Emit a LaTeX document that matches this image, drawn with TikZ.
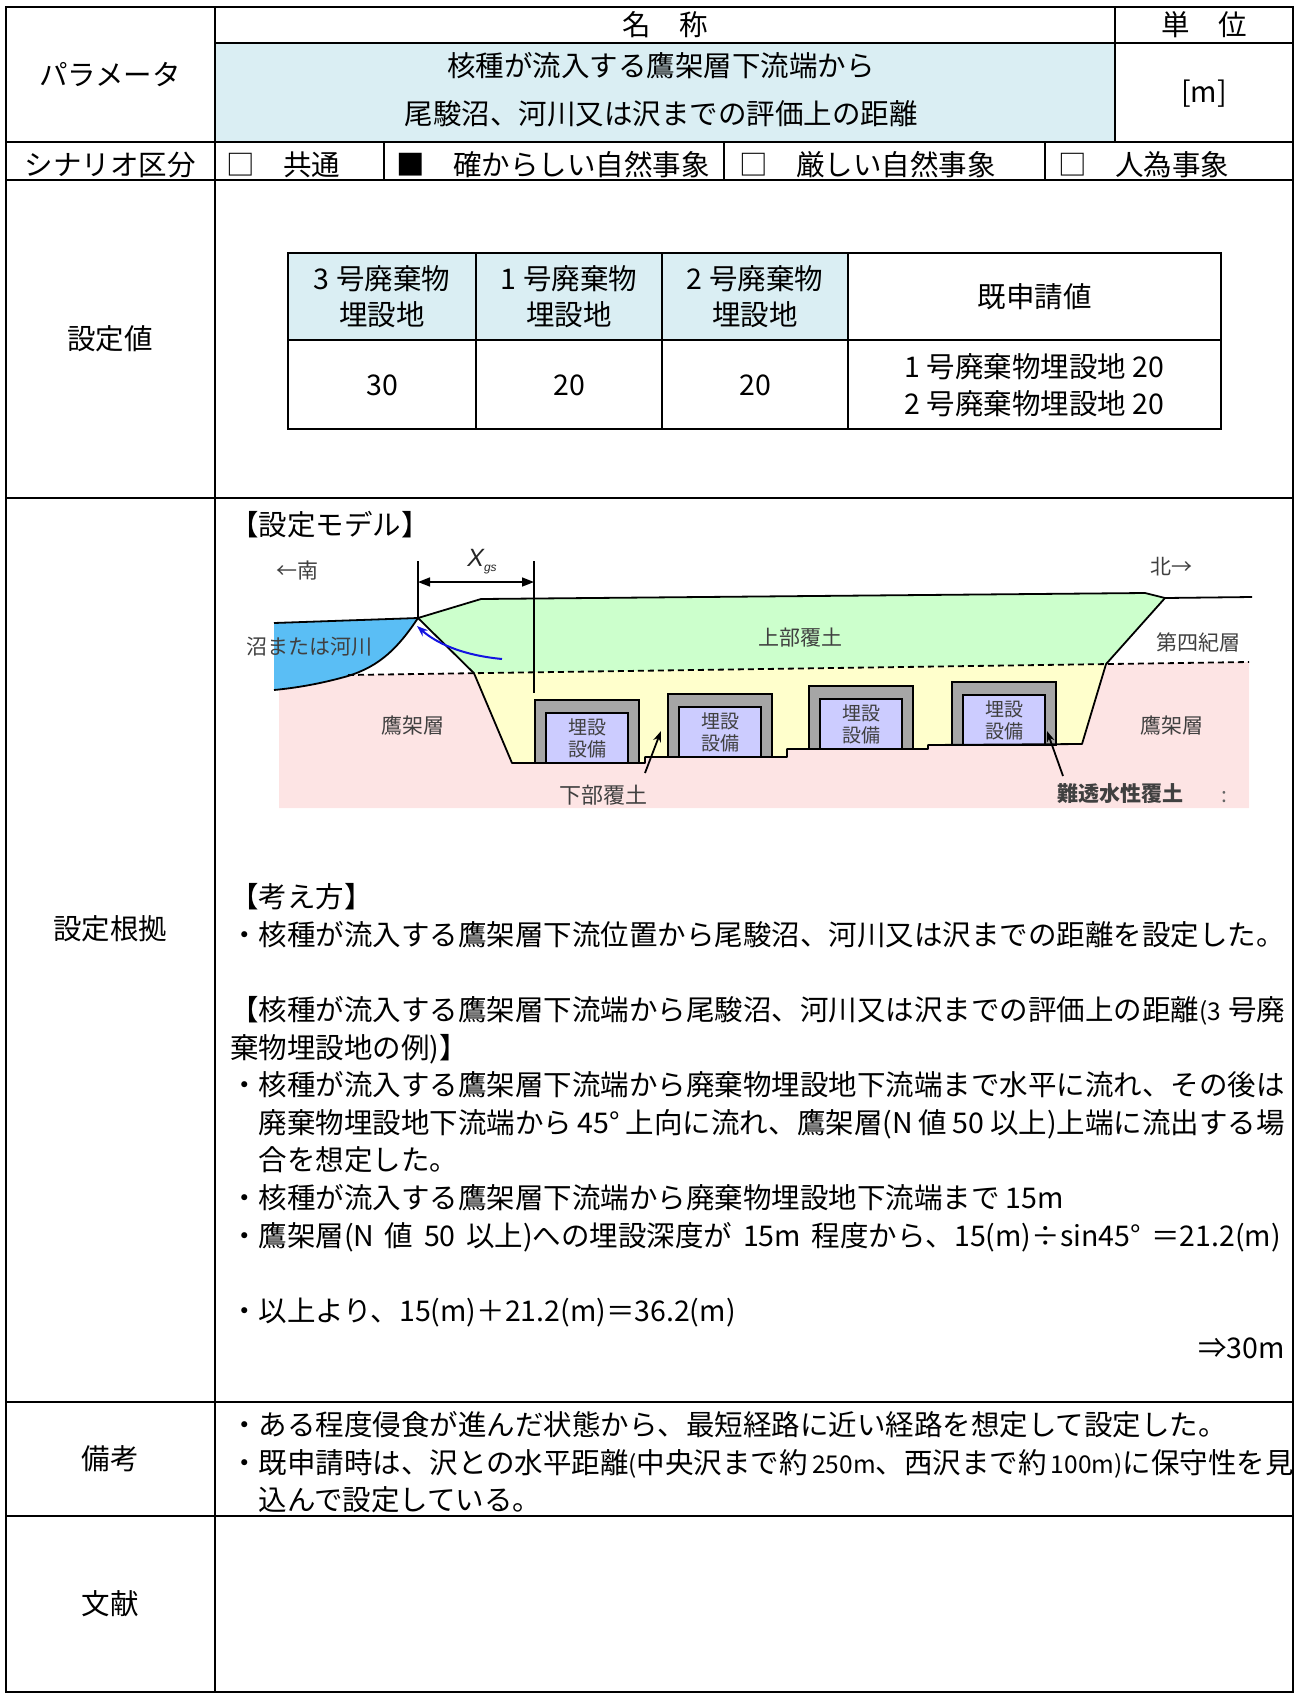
\documentclass[tikz,border=0pt]{standalone}
\usepackage{fontspec}
\setmainfont{Noto Sans CJK JP}
\newfontfamily\arialf{Liberation Sans}
\usetikzlibrary{arrows.meta}
\definecolor{hdrblue}{RGB}{218,238,243}
\definecolor{pinkbg}{RGB}{253,228,228}
\definecolor{greenbg}{RGB}{204,255,204}
\definecolor{yellowbg}{RGB}{255,255,204}
\definecolor{waterbl}{RGB}{90,190,245}
\definecolor{lavbox}{RGB}{204,204,255}
\definecolor{facgray}{RGB}{166,166,166}
\definecolor{lbl}{RGB}{64,64,64}
\newcommand{\jst}[2]{\makebox[#1pt][s]{#2}}
\newcommand{\hw}[1]{{\fontsize{24.5}{30}\selectfont #1}}
\begin{document}
\begin{tikzpicture}[x=1pt,y=-1pt,
  font=\fontsize{28.5}{34}\selectfont,
  every node/.style={inner sep=0pt, outer sep=0pt},
  tl/.style={line width=2.2pt, line cap=rect},
  itl/.style={line width=1.8pt, line cap=rect},
  mt/.style={anchor=base, yshift=-10.5pt},
  mtw/.style={anchor=base west, yshift=-10.5pt},
  mte/.style={anchor=base east, yshift=-10.5pt},
  dl/.style={font=\fontsize{21}{25}\selectfont, text=lbl, anchor=base, yshift=-7.8pt},
  fl/.style={font=\fontsize{19}{22}\selectfont, text=lbl, anchor=base, yshift=-7pt},
  gl/.style={line width=1.8pt, line join=round},
  pa/.style={line width=1.8pt, -{Stealth[length=11pt,width=8pt]}},
]
\useasboundingbox (0,0) rectangle (1296,1695);

% ---------- background fills of the table ----------
\fill[hdrblue] (215,43) rectangle (1115,142);
\fill[hdrblue] (288,253) rectangle (848,340);

% ---------- model diagram ----------
\fill[pinkbg] (279,689) -- (348,675) -- (1249,662) -- (1249,808) -- (279,808) -- cycle;
\fill[greenbg] (418,618) -- (481,599) -- (1145,593) -- (1165,598) -- (1106,664.1) -- (474,673.2) -- cycle;
\fill[yellowbg] (474,673.2) -- (512,763) -- (645,763) -- (645,757) -- (787,757) -- (787,749) -- (928,749) -- (928,745) -- (1082,744) -- (1106,664.1) -- cycle;
\fill[waterbl] (274,623) -- (418,618) .. controls (398,648) and (380,666) .. (348,676) .. controls (320,684) and (295,688) .. (274,690) -- cycle;

% facilities
\foreach \fx/\fb/\nm in {535/763/fa, 668/757/fb, 809/749/fc, 952/745/fd}{
  \draw[fill=facgray, line width=1.8pt] (\fx,\fb) rectangle ++(104,-63);
  \draw[fill=lavbox, line width=1.8pt] (\fx+11,\fb) rectangle ++(82,-50);
  \node[fl] (\nm-1) at (\fx+52,\fb-36) {埋設};
  \node[fl] (\nm-2) at (\fx+52,\fb-14) {設備};
}

% outlines
\draw[gl] (274,623) -- (418,618) -- (481,599) -- (1145,593) -- (1165,598) -- (1252,597);
\draw[gl] (418,618) -- (474,673.2) -- (512,763) -- (645,763) -- (645,757) -- (787,757) -- (787,749) -- (928,749) -- (928,745) -- (1082,744) -- (1106,664.1) -- (1165,598);
\draw[gl] (418,618) .. controls (398,648) and (380,666) .. (348,676) .. controls (320,684) and (295,688) .. (274,690);
\draw[line width=1.8pt, dash pattern=on 6pt off 4pt] (348,675) -- (1249,662);

% dimension X_gs
\coordinate (vlA) at (418,561);
\coordinate (vlAb) at (418,618);
\coordinate (vlB) at (534,561);
\coordinate (vlBb) at (534,693);
\draw[line width=1.6pt] (vlA) -- (vlAb);
\draw[line width=1.6pt] (vlB) -- (vlBb);
\coordinate (dimL) at (418,582);
\coordinate (dimR) at (534,582);
\draw[line width=1.6pt, {Triangle[length=12pt,width=9pt]}-{Triangle[length=12pt,width=9pt]}] (dimL) -- (dimR);
\node[text=black!85] (xgs) at (482,562) {\fontsize{25}{28}\selectfont\arialf\itshape X\raisebox{-5pt}{\fontsize{12}{13}\selectfont gs}};

% blue flow arrow
\coordinate (bs) at (502,659);
\coordinate (be) at (417,626);
\draw[color={rgb,255:red,20;green,20;blue,225}, line width=2pt, -{Stealth[length=11pt,width=8pt]}] (bs) .. controls (460,655) and (435,642) .. (be);

% labels
\node[dl] (minami) at (297,571) {←南};
\node[dl] (kita) at (1171,567) {北→};
\node[dl] (numa) at (309,647) {沼または河川};
\node[dl] (takL) at (413,726) {鷹架層};
\node[dl] (takR) at (1172,726) {鷹架層};
\node[dl] (jobu) at (800,638) {上部覆土};
\node[dl] (daiyon) at (1198,643) {第四紀層};
\node[dl, font=\fontsize{22}{26}\selectfont] (kabu) at (603,796) {下部覆土};
\node[dl, font=\fontsize{21}{25}\selectfont\bfseries] (nan) at (1120,794) {難透水性覆土};
\node[dl, text=black!60] (colon) at (1224,795) {:};
\coordinate (kaT) at (645,773);
\coordinate (kaH) at (661,731);
\draw[pa] (kaT) -- (kaH);
\coordinate (naT) at (1063,776);
\coordinate (naH) at (1047,731);
\draw[pa] (naT) -- (naH);

% ---------- table lines ----------
\draw[tl] (6,7) rectangle (1293,1692);
\draw[tl] (215,7) -- (215,1692);
\draw[tl] (215,43) -- (1293,43);
\draw[tl] (1115,7) -- (1115,142);
\draw[tl] (6,142) -- (1293,142);
\draw[tl] (6,180) -- (1293,180);
\draw[tl] (384,142) -- (384,180);
\draw[tl] (724,142) -- (724,180);
\draw[tl] (1045,142) -- (1045,180);
\draw[tl] (6,498) -- (1293,498);
\draw[tl] (6,1402) -- (1293,1402);
\draw[tl] (6,1516) -- (1293,1516);

% inner table
\draw[itl] (288,253) rectangle (1221,429);
\draw[itl] (288,340) -- (1221,340);
\draw[itl] (476,253) -- (476,429);
\draw[itl] (662,253) -- (662,429);
\draw[itl] (848,253) -- (848,429);

% ---------- table texts ----------
\node[mt] (lpar) at (110,75) {パラメータ};
\node[mt] (lsc) at (110,165) {シナリオ区分};
\node[mt] (lset) at (110,339) {設定値};
\node[mt] (lbas) at (110,929) {設定根拠};
\node[mt] (lbik) at (110,1459) {備考};
\node[mt] (lbun) at (110,1604) {文献};

\node[mt] (hname) at (665,25) {名　称};
\node[mt] (hunit) at (1204,25) {単　位};
\node[mt] (pn1) at (661,66) {核種が流入する鷹架層下流端から};
\node[mt] (pn2) at (661,114) {尾駿沼、河川又は沢までの評価上の距離};
\node[mt] (unit) at (1204,92) {[m]};

\node[mtw] (s1) at (226,165) {□　共通};
\node[mtw] (s2) at (396,165) {■　確からしい自然事象};
\node[mtw] (s3) at (739,165) {□　厳しい自然事象};
\node[mtw] (s4) at (1058,165) {□　人為事象};

\node[mt] (c1a) at (382,278.5) {3 号廃棄物};
\node[mt] (c1b) at (382,314.5) {埋設地};
\node[mt] (c2a) at (569,278.5) {1 号廃棄物};
\node[mt] (c2b) at (569,314.5) {埋設地};
\node[mt] (c3a) at (755,278.5) {2 号廃棄物};
\node[mt] (c3b) at (755,314.5) {埋設地};
\node[mt] (c4) at (1034.5,297) {既申請値};
\node[mt] (v1) at (382,384.5) {30};
\node[mt] (v2) at (569,384.5) {20};
\node[mt] (v3) at (755,384.5) {20};
\node[mt] (v4a) at (1034.5,367) {1 号廃棄物埋設地 20};
\node[mt] (v4b) at (1034.5,404) {2 号廃棄物埋設地 20};

% 設定根拠
\node[mtw] (mdl) at (230,525) {【設定モデル】};
\node[mtw] (k0) at (230,897) {【考え方】};
\node[mtw] (k1) at (230,935) {・核種が流入する鷹架層下流位置から尾駿沼、河川又は沢までの距離を設定した。};
\node[mtw] (k3) at (230,1010) {\jst{1055}{【核種が流入する鷹架層下流端から尾駿沼、河川又は沢までの評価上の距離\hw{(3} 号廃}};
\node[mtw] (k4) at (230,1048) {棄物埋設地の例)】};
\node[mtw] (k5) at (230,1085) {・核種が流入する鷹架層下流端から廃棄物埋設地下流端まで水平に流れ、その後は};
\node[mtw] (k6) at (258.5,1123) {\jst{1026.5}{廃棄物埋設地下流端から 45° 上向に流れ、鷹架層(N 値 50 以上)上端に流出する場}};
\node[mtw] (k7) at (258.5,1160) {合を想定した。};
\node[mtw] (k8) at (230,1198) {・核種が流入する鷹架層下流端から廃棄物埋設地下流端まで 15m};
\node[mtw] (k9) at (230,1236) {\jst{1051}{・鷹架層(N 値 50 以上)への埋設深度が 15m 程度から、15(m)÷sin45° ＝21.2(m)}};
\node[mtw] (k11) at (230,1311) {・以上より、15(m)＋21.2(m)＝36.2(m)};
\node[mte] (k12) at (1285,1348) {⇒30m};

% 備考
\node[mtw] (b1) at (230,1425) {・ある程度侵食が進んだ状態から、最短経路に近い経路を想定して設定した。};
\node[mtw] (b2) at (230,1463) {\jst{1055}{・既申請時は、沢との水平距離\hw{(}中央沢まで約 \hw{250m}、西沢まで約 \hw{100m)}に保守性を見}};
\node[mtw] (b3) at (258.5,1500) {込んで設定している。};
\end{tikzpicture}
\end{document}
